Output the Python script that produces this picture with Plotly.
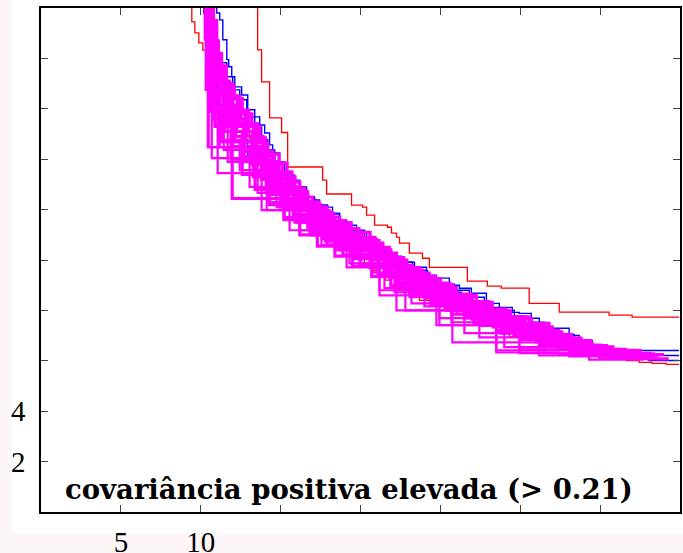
import plotly.graph_objects as go

# ---------------- data ----------------
red_upper_x = [13.56, 13.81, 14.31, 15.06, 15.44, 17.63, 17.88, 19.44, 20.13, 20.38, 20.88, 21.69, 21.94,
               22.25, 22.44, 23.06, 23.88, 24.31, 26.69, 27.94, 28.81, 30.56, 32.44, 35.56, 37.0, 39.94]
red_upper_y = [20.6, 18.34, 17.07, 15.64, 15.06, 13.69, 13.17, 12.62, 12.18, 12.10, 11.78, 11.38, 11.30,
               11.07, 10.91, 10.67, 10.27, 10.07, 9.71, 9.16, 8.96, 8.88, 8.28, 7.93, 7.81, 7.73]

red_lower_x = [9.44, 9.63, 9.88, 10.13, 10.38, 10.63, 10.88, 11.13, 11.5, 11.69, 12.0, 12.31, 12.69, 13.06,
               13.5, 13.94, 14.38, 14.88, 15.38, 15.94, 16.5, 17.06, 17.56, 18.06, 18.5, 19.0, 19.44, 19.75,
               20.25, 20.69, 21.19, 21.56, 21.94, 22.44, 23.06, 23.69, 24.44, 25.25, 26.0, 26.63, 27.13,
               27.75, 28.38, 29.0, 29.31, 30.25, 31.19, 32.13, 33.06, 33.88, 34.5, 35.56, 36.63, 37.44,
               38.25, 39.13, 39.94]
red_lower_y = [20.6, 19.45, 19.01, 18.62, 18.33, 18.01, 17.7, 17.38, 16.98, 16.55, 16.19, 15.87, 15.48,
               15.08, 14.72, 14.37, 13.97, 13.57, 13.17, 12.78, 12.38, 11.98, 11.66, 11.27, 10.99, 10.59,
               10.39, 10.23, 10.03, 9.83, 9.59, 9.40, 9.20, 9.0, 8.80, 8.60, 8.40, 8.16, 8.0, 7.88, 7.72,
               7.56, 7.45, 7.33, 7.17, 6.97, 6.81, 6.65, 6.53, 6.41, 6.29, 6.21, 6.09, 6.01, 5.94, 5.90, 5.86]

blue_a_x = [11.0, 11.19, 11.38, 11.63, 11.75, 11.94, 12.13, 12.56, 12.94, 13.38, 13.69, 14.0, 14.31, 14.5,
            14.94, 15.38, 15.75, 16.19, 16.63, 17.0, 17.44, 18.25, 18.69, 19.13, 19.75, 20.38, 21.0, 21.63,
            22.44, 23.25, 24.13, 24.75, 25.56, 26.19, 26.94, 27.88, 28.25, 29.5, 29.94, 30.69, 31.19, 32.0,
            33.06, 33.69, 34.5, 35.13, 35.56, 39.94]
blue_a_y = [20.6, 19.8, 19.53, 18.74, 17.95, 17.67, 17.27, 16.87, 16.55, 15.96, 15.68, 15.36, 15.04, 14.57,
            14.25, 13.85, 13.45, 13.17, 12.9, 12.5, 12.38, 12.1, 11.86, 11.58, 11.38, 11.11, 10.87, 10.39,
            10.07, 9.91, 9.71, 9.4, 9.28, 9.0, 8.88, 8.68, 8.28, 8.12, 7.92, 7.88, 7.69, 7.33, 7.29, 7.01,
            6.81, 6.61, 6.41, 6.41]

blue_b_x = [10.63, 10.81, 11.06, 11.31, 11.63, 12.0, 12.44, 12.88, 13.38, 13.81, 14.19, 14.63, 15.25, 15.88,
            16.5, 17.13, 17.94, 18.69, 19.44, 20.25, 21.06, 21.81, 22.56, 23.38, 24.19, 25.06, 25.88, 26.81,
            27.75, 28.69, 29.63, 30.56, 31.5, 32.44, 33.38, 34.31, 35.25, 36.19, 37.25, 39.94]
blue_b_y = [20.6, 19.53, 18.62, 18.22, 17.83, 17.27, 16.75, 16.36, 15.68, 15.28, 14.77, 14.37, 13.89, 13.37,
            12.9, 12.5, 12.18, 11.82, 11.5, 11.18, 10.79, 10.47, 10.15, 9.91, 9.59, 9.28, 9.04, 8.8, 8.52,
            8.28, 8.0, 7.76, 7.53, 7.25, 7.05, 6.81, 6.61, 6.41, 6.21, 6.21]

blue_c_x = [10.19, 10.5, 10.75, 11.0, 11.44, 12.13, 12.94, 13.81, 14.81, 15.88, 16.94, 18.06, 19.31, 20.56,
            21.94, 23.38, 24.81, 26.31, 27.88, 29.44, 31.06, 32.75, 34.44, 36.19, 38.06, 39.94]
blue_c_y = [20.6, 19.8, 17.95, 16.95, 16.15, 15.36, 14.77, 14.17, 13.49, 12.86, 12.3, 11.78, 11.27, 10.79,
            10.23, 9.71, 9.2, 8.72, 8.24, 7.76, 7.33, 6.93, 6.57, 6.33, 6.13, 6.01]

# magenta fronts (dense ones)
m1_x = [10.75, 11.0, 11.1, 11.3, 11.6, 12.1, 12.6, 13.2, 13.7, 14.2, 15.4, 16.2, 17.0, 17.9, 18.7, 19.3, 20.6,
        21.4, 22.25, 23.25, 24.3, 25.6, 27.25, 28.25, 29.3, 30.6, 31.8, 32.4, 33.7, 34.5, 35.6, 37.25, 38.7]
m1_y = [20.5, 19.5, 18.7, 18.2, 17.7, 16.9, 16.4, 15.8, 15.3, 14.65, 13.85, 13.1, 12.5, 12.1, 11.7, 11.46,
        11.1, 10.67, 10.27, 9.79, 9.48, 9.08, 8.6, 8.32, 8.0, 7.73, 7.49, 7.21, 6.89, 6.69, 6.5, 6.41, 6.21]
m9_x = [10.73, 10.98, 11.09, 11.25, 11.52, 11.95, 12.45, 13.0, 13.55, 14.05, 14.9, 15.7, 16.5, 17.4, 18.2,
        19.0, 19.9, 20.9, 21.8, 22.7, 23.7, 24.7, 25.8, 26.9, 28.0, 29.1, 30.3, 31.5, 32.6, 33.8, 35.0, 36.6, 38.2]
m9_y = [20.5, 19.4, 18.65, 18.15, 17.65, 17.0, 16.5, 15.95, 15.4, 14.85, 14.2, 13.5, 12.85, 12.3, 11.9,
        11.55, 11.25, 10.9, 10.5, 10.1, 9.7, 9.35, 9.0, 8.65, 8.35, 8.05, 7.75, 7.45, 7.15, 6.85, 6.62, 6.45, 6.3]
m7_x = [10.72, 10.95, 11.08, 11.2, 11.45, 11.8, 12.3, 12.8, 13.4, 13.9, 14.5, 15.1, 15.9, 16.7, 17.5, 18.3,
        19.1, 20.1, 21.0, 21.9, 22.9, 23.9, 25.0, 26.0, 27.0, 28.2, 29.4, 30.7, 32.0, 33.2, 34.4, 35.8, 37.5, 39.0]
m7_y = [20.5, 19.3, 18.6, 18.1, 17.6, 17.1, 16.5, 15.9, 15.4, 14.9, 14.3, 13.8, 13.3, 12.7, 12.2, 11.85,
        11.45, 11.1, 10.8, 10.4, 10.0, 9.6, 9.25, 8.9, 8.6, 8.3, 7.95, 7.65, 7.35, 7.05, 6.8, 6.55, 6.4, 6.25]
m2_x = [10.7, 10.9, 11.05, 11.3, 11.6, 12.0, 12.5, 13.0, 13.5, 14.1, 14.8, 15.6, 16.4, 17.2, 18.0, 18.9, 19.8,
        20.8, 21.7, 22.6, 23.6, 24.6, 25.7, 26.8, 27.9, 29.0, 30.2, 31.4, 32.6, 33.8, 35.0, 36.4, 37.8]
m2_y = [20.5, 19.1, 18.4, 17.9, 17.3, 16.7, 16.1, 15.6, 15.1, 14.4, 13.9, 13.2, 12.6, 12.1, 11.7, 11.3, 11.0,
        10.7, 10.3, 9.9, 9.5, 9.15, 8.8, 8.45, 8.15, 7.85, 7.55, 7.25, 6.95, 6.7, 6.5, 6.35, 6.2]
m10_x = [10.65, 10.85, 11.0, 11.25, 11.55, 11.95, 12.4, 12.9, 13.4, 14.0, 14.7, 15.5, 16.3, 17.1, 17.95, 18.85,
         19.75, 20.75, 21.65, 22.55, 23.55, 24.55, 25.6, 26.7, 27.8, 28.95, 30.15, 31.35, 32.55, 33.75, 35.0,
         36.5, 38.0, 39.3]
m10_y = [20.5, 18.95, 18.2, 17.7, 17.15, 16.55, 15.95, 15.45, 14.9, 14.25, 13.7, 13.05, 12.45, 11.95, 11.55,
         11.15, 10.85, 10.5, 10.15, 9.78, 9.38, 9.03, 8.68, 8.33, 8.03, 7.73, 7.43, 7.13, 6.85, 6.62, 6.45,
         6.3, 6.17, 6.08]
m3_x = [10.6, 10.8, 10.95, 11.2, 11.5, 11.9, 12.3, 12.8, 13.3, 13.9, 14.6, 15.4, 16.2, 17.0, 17.9, 18.8, 19.7,
        20.7, 21.6, 22.5, 23.5, 24.5, 25.5, 26.6, 27.7, 28.9, 30.1, 31.3, 32.5, 33.7, 35.0, 36.5, 38.0]
m3_y = [20.5, 18.8, 18.0, 17.5, 17.0, 16.4, 15.8, 15.3, 14.7, 14.1, 13.5, 12.9, 12.3, 11.8, 11.4, 11.0, 10.7,
        10.35, 10.0, 9.65, 9.25, 8.9, 8.55, 8.2, 7.9, 7.6, 7.3, 7.0, 6.75, 6.55, 6.4, 6.25, 6.12]
m11_x = [10.55, 10.75, 10.92, 11.15, 11.45, 11.85, 12.25, 12.75, 13.25, 13.85, 14.55, 15.35, 16.15, 16.95,
         17.85, 18.75, 19.65, 20.65, 21.55, 22.45, 23.45, 24.45, 25.45, 26.55, 27.65, 28.85, 30.05, 31.25,
         32.45, 33.7, 35.05, 36.55, 38.1]
m11_y = [20.5, 18.5, 17.8, 17.3, 16.8, 16.15, 15.6, 15.1, 14.5, 13.95, 13.35, 12.75, 12.15, 11.65, 11.25,
         10.88, 10.55, 10.2, 9.85, 9.5, 9.12, 8.78, 8.42, 8.1, 7.8, 7.5, 7.2, 6.92, 6.68, 6.5, 6.35, 6.22, 6.1]
m4_x = [10.5, 10.7, 10.9, 11.1, 11.4, 11.8, 12.2, 12.7, 13.2, 13.8, 14.5, 15.3, 16.1, 16.9, 17.8, 18.7, 19.6,
        20.6, 21.5, 22.4, 23.4, 24.4, 25.4, 26.5, 27.6, 28.8, 30.0, 31.2, 32.4, 33.7, 35.1, 36.6]
m4_y = [20.5, 18.3, 17.6, 17.1, 16.6, 15.9, 15.4, 14.9, 14.3, 13.8, 13.2, 12.6, 12.0, 11.5, 11.1, 10.75, 10.4,
        10.05, 9.7, 9.35, 9.0, 8.65, 8.3, 8.0, 7.7, 7.4, 7.1, 6.85, 6.6, 6.45, 6.3, 6.2]
m8_x = [10.48, 10.65, 10.85, 11.2, 11.6, 12.1, 12.7, 13.4, 14.2, 15.0, 15.8, 16.7, 17.6, 18.6, 19.6, 20.7,
        21.8, 22.9, 24.1, 25.3, 26.6, 27.9, 29.3, 30.7, 32.2, 33.8, 35.4, 37.0]
m8_y = [20.5, 17.9, 17.2, 16.6, 16.0, 15.3, 14.7, 14.1, 13.5, 12.95, 12.4, 11.8, 11.3, 10.85, 10.45, 10.1,
        9.7, 9.3, 8.9, 8.5, 8.15, 7.8, 7.5, 7.2, 6.9, 6.6, 6.4, 6.25]
m5_x = [10.45, 10.6, 10.8, 11.1, 11.5, 12.0, 12.6, 13.3, 14.1, 15.0, 15.9, 16.9, 17.9, 18.9, 20.0, 21.1, 22.2,
        23.3, 24.5, 25.7, 27.0, 28.3, 29.6, 31.0, 32.5, 34.0, 35.6]
m5_y = [20.5, 17.8, 17.0, 16.5, 15.8, 15.1, 14.5, 13.9, 13.3, 12.7, 12.1, 11.5, 11.0, 10.6, 10.2, 9.85, 9.45,
        9.1, 8.7, 8.35, 8.0, 7.65, 7.35, 7.05, 6.75, 6.5, 6.3]
m6_x = [10.44, 10.55, 10.9, 11.3, 11.9, 12.6, 13.4, 14.3, 15.2, 16.2, 17.3, 18.4, 19.5, 20.7, 21.9, 23.1, 24.4,
        25.7, 27.1, 28.5, 30.0, 31.6, 33.2, 34.8]
m6_y = [20.5, 16.8, 15.9, 15.3, 14.7, 14.0, 13.4, 12.8, 12.2, 11.6, 11.0, 10.55, 10.15, 9.75, 9.35, 8.95, 8.55,
        8.2, 7.85, 7.5, 7.2, 6.9, 6.6, 6.4]

# magenta fronts (sparse ones, they leave the boxes)
s1_x = [10.44, 10.69, 11.94, 13.81, 15.56, 17.56, 19.31, 21.19, 22.81, 24.94, 28.5, 29.94, 32.44, 34.94, 38.06]
s1_y = [20.5, 14.48, 14.04, 12.42, 11.98, 11.18, 10.59, 9.87, 8.8, 8.0, 7.41, 6.33, 6.3, 6.26, 6.09]
s2_x = [10.31, 10.5, 11.06, 12.0, 14.13, 16.19, 18.06, 19.13, 21.19, 22.25, 24.75, 25.75, 28.5, 31.19, 34.31, 37.75]
s2_y = [20.5, 16.75, 14.48, 13.45, 12.46, 11.98, 11.18, 10.79, 9.71, 8.6, 8.0, 7.41, 6.73, 6.41, 6.21, 6.05]
s3_x = [10.38, 10.75, 11.19, 11.69, 13.06, 14.31, 15.25, 16.81, 18.38, 19.94, 21.5, 23.19, 24.94, 26.5, 29.0,
        31.5, 34.94, 38.38]
s3_y = [20.5, 17.95, 15.56, 14.48, 13.89, 12.9, 12.3, 11.7, 11.11, 10.39, 9.75, 8.88, 8.28, 7.69, 7.1, 6.54,
        6.3, 6.09]
s4_x = [10.25, 10.44, 10.63, 10.88, 11.13, 11.44, 12.44, 13.56, 14.75, 16.19, 17.75, 19.44, 20.69, 22.13, 24.0,
        25.69, 27.44, 29.94, 33.06, 36.5]
s4_y = [20.5, 18.74, 17.35, 16.36, 15.36, 14.77, 14.37, 13.57, 12.66, 12.1, 11.5, 10.87, 10.19, 9.51, 8.72,
        8.16, 7.53, 6.93, 6.45, 6.17]

x_tick_vals = [5, 10, 15, 20, 25, 30, 35]
x_tick_text = ["5", "10", "", "", "", "", ""]
y_tick_vals = [2, 4, 6, 8, 10, 12, 14, 16, 18]
y_tick_text = ["2", "4", "", "", "", "", "", "", ""]
label_text = "covariância positiva elevada (&gt; 0.21)"

# ---------------- figure ----------------
RED = "#ff0000"
BLUE = "#0000ff"
MAG = "#ff00ff"

fig = go.Figure()


def steps(xs, ys, color, width, shape):
    fig.add_trace(go.Scatter(x=xs, y=ys, mode="lines", hoverinfo="skip", showlegend=False,
                             line=dict(color=color, width=width, shape=shape)))


steps(red_upper_x, red_upper_y, RED, 1.3, "vh")
steps(red_lower_x, red_lower_y, RED, 1.3, "vh")
for bx, by in [(blue_c_x, blue_c_y), (blue_b_x, blue_b_y), (blue_a_x, blue_a_y)]:
    steps(bx, by, BLUE, 1.4, "vh")

for mx, my in [(m6_x, m6_y), (m5_x, m5_y), (m8_x, m8_y), (m4_x, m4_y), (m11_x, m11_y), (m3_x, m3_y)]:
    steps(mx, my, MAG, 3.2, "vh")
    steps(mx, my, MAG, 3.2, "hv")
for mx, my in [(m10_x, m10_y), (m2_x, m2_y), (m7_x, m7_y), (m9_x, m9_y), (m1_x, m1_y)]:
    steps(mx, my, MAG, 3.2, "vh")
for sx, sy in [(s1_x, s1_y), (s2_x, s2_y), (s3_x, s3_y), (s4_x, s4_y)]:
    steps(sx, sy, MAG, 2.2, "vh")
    steps(sx, sy, MAG, 2.2, "hv")

tick_font = dict(family="Liberation Serif, Times New Roman, serif", size=29, color="black")

fig.update_layout(
    width=683, height=553,
    margin=dict(l=41, r=3, t=8, b=41, pad=0),
    paper_bgcolor="white", plot_bgcolor="white",
    showlegend=False,
    xaxis=dict(range=[0, 40], showgrid=False, zeroline=False, showline=True, linecolor="black",
               linewidth=1.5, mirror="ticks", ticks="inside", ticklen=7, tickwidth=1, tickcolor="#444",
               tickvals=x_tick_vals, ticktext=x_tick_text, tickfont=tick_font, ticklabelstandoff=3,
               automargin=False),
    yaxis=dict(range=[0, 20], showgrid=False, zeroline=False, showline=True, linecolor="black",
               linewidth=1.5, mirror="ticks", ticks="inside", ticklen=7, tickwidth=1, tickcolor="#444",
               tickvals=y_tick_vals, ticktext=y_tick_text, tickfont=tick_font, ticklabelstandoff=8,
               automargin=False),
    annotations=[dict(x=19.3, y=0.93, xref="x", yref="y", text=label_text, showarrow=False,
                      xanchor="center", yanchor="middle",
                      font=dict(family="DejaVu Serif, serif", size=27.5, color="black", weight="bold"))],
    shapes=[
        dict(type="rect", xref="paper", yref="paper", x0=-41 / 639, x1=-29 / 639, y0=-41 / 504,
             y1=1 + 8 / 504, fillcolor="#fcf7f6", line=dict(width=0), layer="below"),
        dict(type="rect", xref="paper", yref="paper", x0=-41 / 639, x1=1 + 3 / 639, y0=-41 / 504,
             y1=-21 / 504, fillcolor="#fcf7f6", line=dict(width=0), layer="below"),
    ],
)

fig.write_html("out.html", config={"displayModeBar": False},
               post_script="document.body.style.margin='0';")
